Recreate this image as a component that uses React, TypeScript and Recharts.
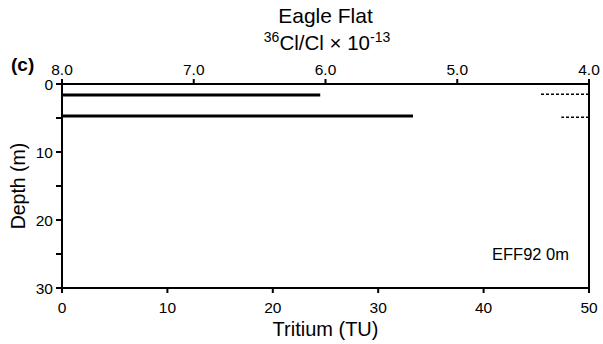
import React from 'react';
import { ComposedChart, Line, XAxis, YAxis, Label } from 'recharts';

// Tritium bars (solid), from 0 TU out to the value
const tritiumDepths = [1.6, 4.7];
const tritiumValues = [24.5, 33.3];

// 36Cl/Cl bars (dashed), drawn from the 4.0 edge of the top scale
const clDepths = [1.5, 4.9];
const clValues = [4.37, 4.21];
const clBase = 4.0;

const depthTicks = [0, 5, 10, 15, 20, 25, 30];
const tritiumTicks = [0, 10, 20, 30, 40, 50];
const clTicks = [8, 7, 6, 5, 4];

const FONT = '"Liberation Sans", Arial, Helvetica, sans-serif';

export default function App() {
  const tritiumSegs = tritiumDepths.map((d, i) => [
    { v: 0, d },
    { v: tritiumValues[i], d },
  ]);
  const clSegs = clDepths.map((d, i) => [
    { v: clBase, d },
    { v: clValues[i], d },
  ]);

  const axisStroke = { stroke: '#000', strokeWidth: 2 };
  const tickText = { fill: '#000', fontSize: 15.5, fontFamily: FONT };

  return (
    <div style={{ position: 'absolute', left: 0, top: 0, width: 603, height: 344, background: '#fff', fontFamily: FONT }}>
      <div style={{ position: 'absolute', left: 0, width: 651, top: 4, textAlign: 'center', fontSize: 21, color: '#000' }}>
        Eagle Flat
      </div>
      <div style={{ position: 'absolute', left: 0, width: 654, top: 29, textAlign: 'center', fontSize: 20.5, color: '#000' }}>
        <sup style={{ fontSize: 14 }}>36</sup>Cl/Cl × 10<sup style={{ fontSize: 14 }}>-13</sup>
      </div>
      <div style={{ position: 'absolute', left: 11, top: 54, fontSize: 19, fontWeight: 'bold', color: '#000' }}>
        (c)
      </div>
      <div style={{ position: 'absolute', left: 492, top: 245, fontSize: 16.5, color: '#000' }}>
        EFF92 0m
      </div>
      <ComposedChart
        width={603}
        height={344}
        layout="vertical"
        data={[]}
        margin={{ top: 54, right: 0, bottom: 0, left: 22 }}
        style={{ position: 'absolute', left: 0, top: 0 }}
      >
        <XAxis
          xAxisId="t"
          type="number"
          orientation="bottom"
          domain={[0, 50]}
          ticks={tritiumTicks}
          height={56}
          axisLine={axisStroke}
          tickLine={axisStroke}
          tickSize={5}
          tickMargin={9}
          tick={tickText}
        >
          <Label value="Tritium (TU)" position="insideBottom" offset={8} style={{ fill: '#000', fontSize: 20, fontFamily: FONT }} />
        </XAxis>
        <XAxis
          xAxisId="c"
          type="number"
          orientation="top"
          domain={[4, 8]}
          reversed
          ticks={clTicks}
          height={30}
          axisLine={axisStroke}
          tickLine={axisStroke}
          tickSize={5}
          tickMargin={4}
          tick={tickText}
          tickFormatter={(v: number) => v.toFixed(1)}
        />
        <YAxis
          yAxisId="d"
          type="number"
          dataKey="d"
          domain={[0, 30]}
          ticks={depthTicks}
          width={40}
          axisLine={axisStroke}
          tickLine={axisStroke}
          tickSize={6}
          tickMargin={3}
          tick={tickText}
          tickFormatter={(v: number) => (v % 10 === 0 ? String(v) : '')}
        >
          <Label value="Depth (m)" angle={-90} position="insideLeft" offset={-4} style={{ fill: '#000', fontSize: 19.5, fontFamily: FONT, textAnchor: 'middle' }} />
        </YAxis>
        <YAxis
          yAxisId="r"
          type="number"
          orientation="right"
          domain={[0, 30]}
          ticks={depthTicks}
          width={14}
          axisLine={axisStroke}
          tickLine={axisStroke}
          tickSize={6}
          tickFormatter={() => ''}
        />
        {tritiumSegs.map((seg, i) => (
          <Line
            key={`t${i}`}
            data={seg}
            dataKey="v"
            xAxisId="t"
            yAxisId="d"
            stroke="#000"
            strokeWidth={3}
            dot={false}
            isAnimationActive={false}
          />
        ))}
        {clSegs.map((seg, i) => (
          <Line
            key={`c${i}`}
            data={seg}
            dataKey="v"
            xAxisId="c"
            yAxisId="d"
            stroke="#000"
            strokeWidth={1.5}
            strokeDasharray="3 2"
            dot={false}
            isAnimationActive={false}
          />
        ))}
      </ComposedChart>
    </div>
  );
}
